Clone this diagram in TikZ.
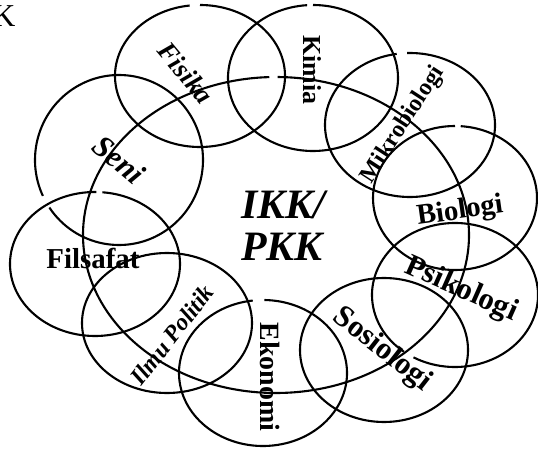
\documentclass[tikz,border=0pt]{standalone}
\usepackage{fontspec}
\setmainfont{Liberation Serif}
\begin{document}
\begin{tikzpicture}[x=1bp,y=1bp,
    ring/.style={line width=2.1bp},
    lab/.style={font=\bfseries\fontsize{#1}{#1}\selectfont, inner sep=0pt},
    labit/.style={font=\bfseries\itshape\fontsize{#1}{#1}\selectfont, inner sep=0pt}]

        \useasboundingbox (0,0) rectangle (538,-451);

        % Big ellipse round the middle
        \draw[ring] ({276+193*cos(92)},{-235+158*sin(92)})
            arc[start angle=92, end angle=449.5, x radius=193, y radius=158];

        % Ring of fields: centre x/y, radii, start of the stroke, length
        \foreach \cx/\cy/\rx/\ry/\g/\s in {200/76/85/71/97/353, 313/78/85/73/94/356,
            410/125/85/72/99/353, 455/198/82/72/90/356, 455/295/83/72/240/352,
            384/350/84/72/0/360, 263/373/84/73/97/352, 167/323/85/70/0/360,
            95/264/85/72/89/356, 119/160/84/85/214/351}
        {
            \draw[ring] ({\cx+\rx*cos(\g)},{-\cy+\ry*sin(\g)})
                arc[start angle=\g, end angle=\g+\s, x radius=\rx, y radius=\ry];
        }

        % Labels
        \node[labit=27, rotate=-50] (fisika) at (186,-73) {Fisika};
        \node[lab=26, rotate=-90] (kimia) at (312,-70) {Kimia};
        \node[lab=24, rotate=57] (mikro) at (403,-125) {Mikrobiologi};
        \node[lab=29, rotate=8] (biologi) at (460,-212) {Biologi};
        \node[lab=31, rotate=-24] (psikologi) at (461,-290) {Psikologi};
        \node[lab=31, rotate=-38] (sosiologi) at (382,-350) {Sosiologi};
        \node[lab=28, rotate=-90] (ekonomi) at (270,-377) {Ekonomi};
        \node[labit=24, rotate=52] (politik) at (172,-335) {Ilmu Politik};
        \node[lab=29] (filsafat) at (93,-258) {Filsafat};
        \node[labit=31, rotate=-40] (seni) at (119,-160) {Seni};

        % Middle
        \node[labit=42, align=left] (ikk) at (283,-226) {IKK/\\PKK};

        \node[font=\fontsize{32}{32}\selectfont, anchor=base east, inner sep=0pt] (k) at (15.5,-27) {K};

    \end{tikzpicture}
\end{document}
